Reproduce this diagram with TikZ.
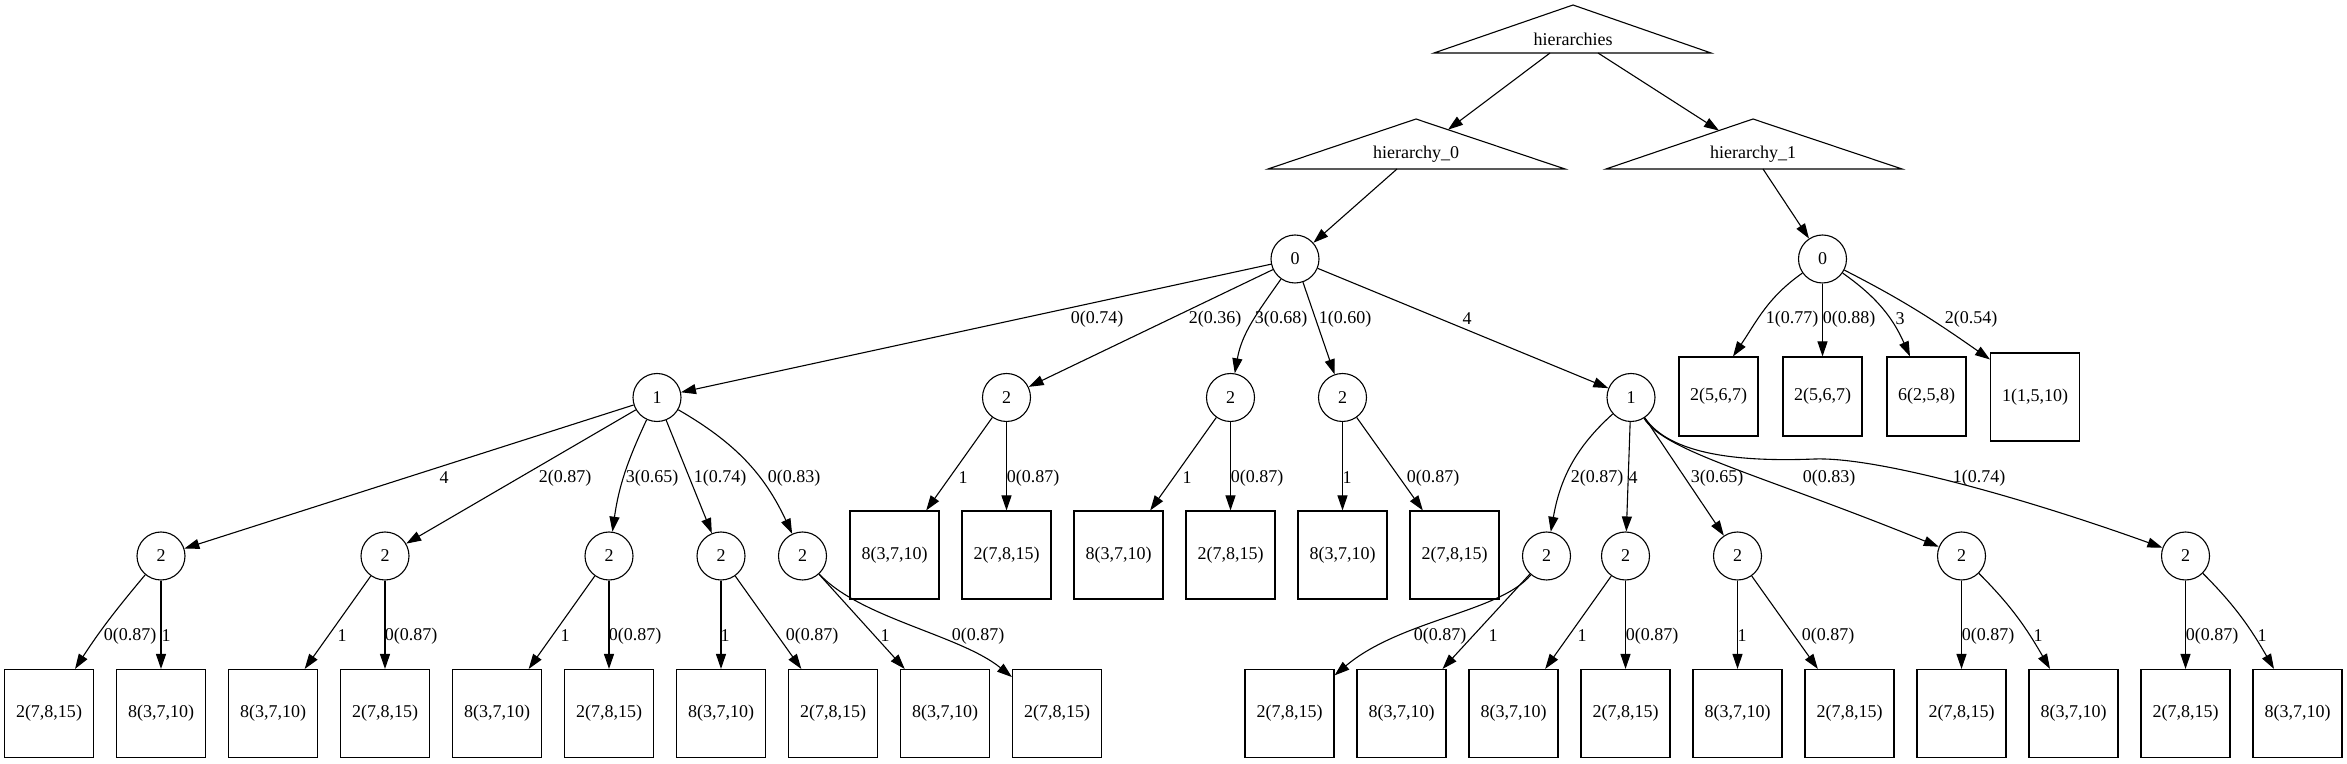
\documentclass[tikz,border=0pt]{standalone}
\usepackage{fontspec}
\setmainfont{Liberation Serif}
\usetikzlibrary{arrows.meta,calc}
\begin{document}
\begin{tikzpicture}[x=1pt,y=1pt,
  every node/.style={font=\fontsize{18}{21}\selectfont},
  cnode/.style={circle,draw,line width=1.1pt,minimum size=48pt,inner sep=0pt},
  bnode/.style={rectangle,draw,line width=1.1pt,minimum width=89pt,minimum height=88pt,inner sep=0pt},
  snode/.style={bnode,minimum width=79pt,minimum height=79pt},
  tnode/.style={inner sep=0pt},
  lbl/.style={inner sep=0pt},
  edge/.style={line width=1.1pt,-{Triangle[length=15pt,width=10pt]}},
  tri/.style={draw,line width=1.1pt}]
\useasboundingbox (0,0) rectangle (2347,763);

% triangles
\node[tnode] (hier) at (1573,724) {hierarchies};
\node[tnode] (h0) at (1416,609) {hierarchy\_0};
\node[tnode] (h1) at (1753,609) {hierarchy\_1};
\draw[tri] ($(hier)+(-139,-14)$) -- ($(hier)+(0,34)$) -- ($(hier)+(138,-14)$) -- cycle;
\draw[tri] ($(h0)+(-148,-15)$) -- ($(h0)+(0,35)$) -- ($(h0)+(149,-15)$) -- cycle;
\draw[tri] ($(h1)+(-147,-15)$) -- ($(h1)+(0,35)$) -- ($(h1)+(149,-15)$) -- cycle;

% level 1
\node[cnode] (n0L) at (1295,504) {0};
\node[cnode] (n0R) at (1822.5,504) {0};
% level 2
\node[cnode] (n1L) at (657,365.5) {1};
\node[cnode] (n2a) at (1006.5,365.5) {2};
\node[cnode] (n2b) at (1230.5,365.5) {2};
\node[cnode] (n2c) at (1342.5,365.5) {2};
\node[cnode] (n1R) at (1631,365.5) {1};
\node[snode] (bA) at (1718.5,366.5) {2(5,6,7)};
\node[snode] (bB) at (1822.5,366.5) {2(5,6,7)};
\node[snode] (bC) at (1926.5,366.5) {6(2,5,8)};
\node[bnode] (bD) at (2035,366) {1(1,5,10)};
% level 3 boxes
\node[bnode] (ta1) at (894.5,208) {8(3,7,10)};
\node[bnode] (ta2) at (1006.5,208) {2(7,8,15)};
\node[bnode] (tb1) at (1118.5,208) {8(3,7,10)};
\node[bnode] (tb2) at (1230.5,208) {2(7,8,15)};
\node[bnode] (tc1) at (1342.5,208) {8(3,7,10)};
\node[bnode] (tc2) at (1454.5,208) {2(7,8,15)};
% level 3 circles
\node[cnode] (c1) at (161,207) {2};
\node[cnode] (c2) at (385,207) {2};
\node[cnode] (c3) at (609,207) {2};
\node[cnode] (c4) at (721,207) {2};
\node[cnode] (c5) at (802.5,207) {2};
\node[cnode] (c6) at (1546.5,207) {2};
\node[cnode] (c7) at (1625.5,207) {2};
\node[cnode] (c8) at (1737.5,207) {2};
\node[cnode] (c9) at (1961.5,207) {2};
\node[cnode] (c10) at (2185.5,207) {2};
% bottom boxes
\node[bnode] (b1) at (49,49.5) {2(7,8,15)};
\node[bnode] (b2) at (161,49.5) {8(3,7,10)};
\node[bnode] (b3) at (273,49.5) {8(3,7,10)};
\node[bnode] (b4) at (385,49.5) {2(7,8,15)};
\node[bnode] (b5) at (497,49.5) {8(3,7,10)};
\node[bnode] (b6) at (609,49.5) {2(7,8,15)};
\node[bnode] (b7) at (721,49.5) {8(3,7,10)};
\node[bnode] (b8) at (833,49.5) {2(7,8,15)};
\node[bnode] (b9) at (945,49.5) {8(3,7,10)};
\node[bnode] (b10) at (1057,49.5) {2(7,8,15)};
\node[bnode] (r1) at (1289.5,49.5) {2(7,8,15)};
\node[bnode] (r2) at (1401.5,49.5) {8(3,7,10)};
\node[bnode] (r3) at (1513.5,49.5) {8(3,7,10)};
\node[bnode] (r4) at (1625.5,49.5) {2(7,8,15)};
\node[bnode] (r5) at (1737.5,49.5) {8(3,7,10)};
\node[bnode] (r6) at (1849.5,49.5) {2(7,8,15)};
\node[bnode] (r7) at (1961.5,49.5) {2(7,8,15)};
\node[bnode] (r8) at (2073.5,49.5) {8(3,7,10)};
\node[bnode] (r9) at (2185.5,49.5) {2(7,8,15)};
\node[bnode] (r10) at (2297.5,49.5) {8(3,7,10)};

% edges top
\draw[edge] ($(hier)+(-23,-14)$) -- ($(h0)+(32,24.3)$);
\draw[edge] ($(hier)+(25,-14)$) -- ($(h1)+(-34,23.4)$);
\draw[edge] ($(h0)+(-19,-15)$) -- (n0L);
\draw[edge] ($(h1)+(10,-15)$) -- (n0R);
% level 1 -> 2
\draw[edge] (n0L) -- (n1L);
\draw[edge] (n0L) -- (n2a);
\draw[edge] (n0L) to[out=-125,in=80] (n2b);
\draw[edge] (n0L) -- (n2c);
\draw[edge] (n0L) -- (n1R);
\draw[edge] (n0R) to[out=-145,in=56] ([xshift=14.5pt]bA.north);
\draw[edge] (n0R) -- (bB);
\draw[edge] (n0R) to[out=-35,in=114] ([xshift=-16.5pt]bC.north);
\draw[edge] (n0R) to[out=-27,in=145] ([yshift=-7pt]bD.north west);
% level 2 -> 3
\draw[edge] (n1L) -- (c1);
\draw[edge] (n1L) -- (c2);
\draw[edge] (n1L) to[out=-115,in=82] (c3);
\draw[edge] (n1L) -- (c4);
\draw[edge] (n1L) to[out=-30,in=115] (c5);
\draw[edge] (n2a) -- (ta1);
\draw[edge] (n2a) -- (ta2);
\draw[edge] (n2b) -- (tb1);
\draw[edge] (n2b) -- (tb2);
\draw[edge] (n2c) -- (tc1);
\draw[edge] (n2c) -- (tc2);
\draw[edge] (n1R) to[out=-138,in=80] (c6);
\draw[edge] (n1R) -- (c7);
\draw[edge] (n1R) -- (c8);
\draw[edge] (n1R) .. controls (1665,311) and (1760,289) .. (c9);
\draw[edge] (n1R) .. controls (1670,308) and (1740,301) .. (1815,304) .. controls (1880,306) and (2030,263) .. (c10);
% level 3 -> 4
\draw[edge] (c1) to[out=-130,in=57] ([xshift=26pt]b1.north);
\draw[edge] (c1) -- (b2);
\draw[edge] (c2) -- (b3);
\draw[edge] (c2) -- (b4);
\draw[edge] (c3) -- (b5);
\draw[edge] (c3) -- (b6);
\draw[edge] (c4) -- (b7);
\draw[edge] (c4) -- (b8);
\draw[edge] (c5) -- (b9);
\draw[edge] (c5) .. controls (860,145) and (960,128) .. (b10);
\draw[edge] (c6) .. controls (1500,151) and (1400,143) .. (r1);
\draw[edge] (c6) -- (r2);
\draw[edge] (c7) -- (r3);
\draw[edge] (c7) -- (r4);
\draw[edge] (c8) -- (r5);
\draw[edge] (c8) -- (r6);
\draw[edge] (c9) -- (r7);
\draw[edge] (c9) to[out=-45,in=120] ([xshift=-23.5pt]r8.north);
\draw[edge] (c10) -- (r9);
\draw[edge] (c10) to[out=-45,in=120] ([xshift=-23.5pt]r10.north);

% labels
\node[lbl] (l01) at (1097,444) {0(0.74)};
\node[lbl] (l02) at (1215,444) {2(0.36)};
\node[lbl] (l03) at (1281,444) {3(0.68)};
\node[lbl] (l04) at (1345,444) {1(0.60)};
\node[lbl] (l05) at (1467,444) {4};
\node[lbl] (l06) at (1792,444) {1(0.77)};
\node[lbl] (l07) at (1849,444) {0(0.88)};
\node[lbl] (l08) at (1900,444) {3};
\node[lbl] (l09) at (1971,444) {2(0.54)};
\node[lbl] (l10) at (444,285) {4};
\node[lbl] (l11) at (565,285) {2(0.87)};
\node[lbl] (l12) at (652,285) {3(0.65)};
\node[lbl] (l13) at (720,285) {1(0.74)};
\node[lbl] (l14) at (794,285) {0(0.83)};
\node[lbl] (l15) at (963,285) {1};
\node[lbl] (l16) at (1033,285) {0(0.87)};
\node[lbl] (l17) at (1187,285) {1};
\node[lbl] (l18) at (1257,285) {0(0.87)};
\node[lbl] (l19) at (1347,285) {1};
\node[lbl] (l20) at (1433,285) {0(0.87)};
\node[lbl] (l21) at (1597,285) {2(0.87)};
\node[lbl] (l22) at (1633,285) {4};
\node[lbl] (l23) at (1717,285) {3(0.65)};
\node[lbl] (l24) at (1829,285) {0(0.83)};
\node[lbl] (l25) at (1979,285) {1(0.74)};
\node[lbl] (l26) at (130,127) {0(0.87)};
\node[lbl] (l27) at (166,127) {1};
\node[lbl] (l28) at (342,127) {1};
\node[lbl] (l29) at (411,127) {0(0.87)};
\node[lbl] (l30) at (565,127) {1};
\node[lbl] (l31) at (635,127) {0(0.87)};
\node[lbl] (l32) at (725,127) {1};
\node[lbl] (l33) at (812,127) {0(0.87)};
\node[lbl] (l34) at (885,127) {1};
\node[lbl] (l35) at (978,127) {0(0.87)};
\node[lbl] (l36) at (1440,127) {0(0.87)};
\node[lbl] (l37) at (1493,127) {1};
\node[lbl] (l38) at (1582,127) {1};
\node[lbl] (l39) at (1652,127) {0(0.87)};
\node[lbl] (l40) at (1742,127) {1};
\node[lbl] (l41) at (1828,127) {0(0.87)};
\node[lbl] (l42) at (1988,127) {0(0.87)};
\node[lbl] (l43) at (2038,127) {1};
\node[lbl] (l44) at (2212,127) {0(0.87)};
\node[lbl] (l45) at (2262,127) {1};
\end{tikzpicture}
\end{document}
